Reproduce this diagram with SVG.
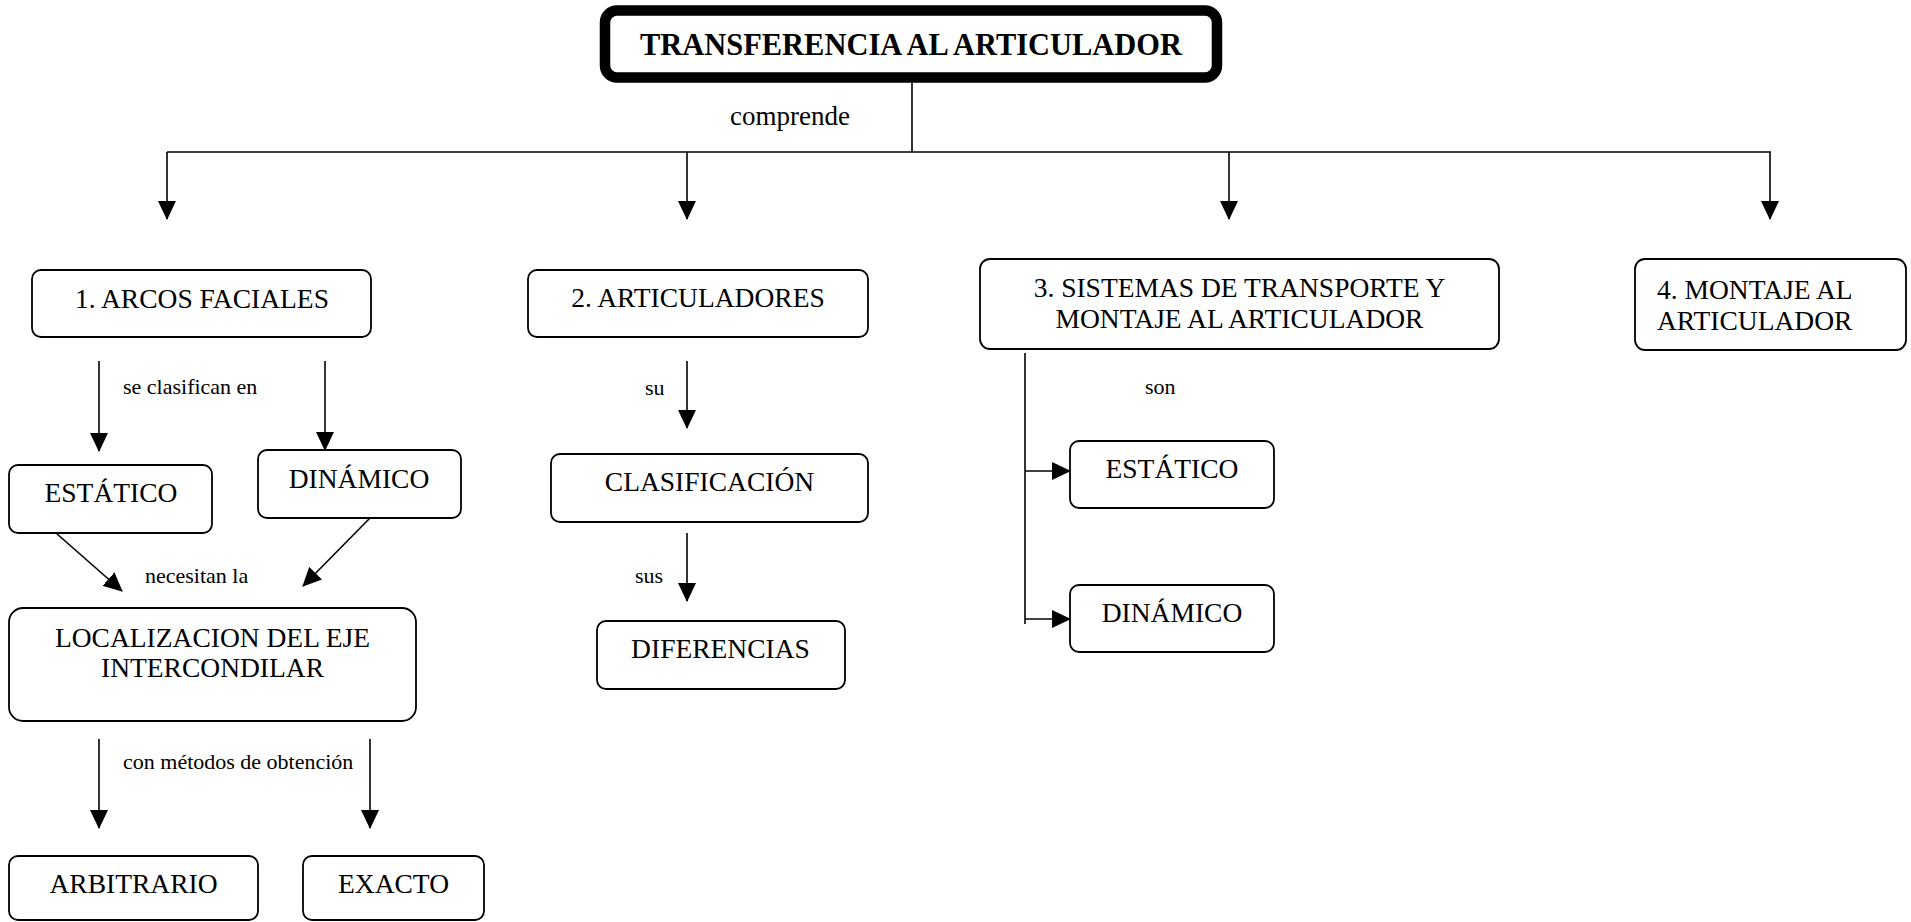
<svg xmlns="http://www.w3.org/2000/svg" width="1911" height="922" viewBox="0 0 1911 922">
<style>
  text { font-family: "Liberation Serif", "Times New Roman", serif; fill: #000; }
  .box { fill: #fff; stroke: #000; stroke-width: 1.8; }
  .t { font-size: 27.5px; text-anchor: middle; }
  .tl { font-size: 27.5px; text-anchor: start; }
  .lbl { font-size: 22px; }
  .con { fill: none; stroke: #000; stroke-width: 1.6; }
  .arr { marker-end: url(#ah); }
</style>
<defs>
  <marker id="ah" viewBox="0 0 19 18" refX="18" refY="9" markerWidth="19" markerHeight="18" markerUnits="userSpaceOnUse" orient="auto">
    <path d="M0,0 L19,9 L0,18 Z" fill="#000"/>
  </marker>
</defs>
<rect width="1911" height="922" fill="#fff"/>

<g id="connectors">
  <path class="con" d="M912,83 V152"/>
  <path class="con" d="M167,152 H1771"/>
  <path class="con arr" d="M167,152 V219"/>
  <path class="con arr" d="M687,152 V219"/>
  <path class="con arr" d="M1229,152 V219"/>
  <path class="con arr" d="M1770,152 V219"/>
  <path class="con arr" d="M99,361 V451"/>
  <path class="con arr" d="M325,361 V450"/>
  <path class="con arr" d="M56,533 L122,591"/>
  <path class="con arr" d="M370,518 L303,586"/>
  <path class="con arr" d="M99,739 V828"/>
  <path class="con arr" d="M370,739 V828"/>
  <path class="con arr" d="M687,361 V428"/>
  <path class="con arr" d="M687,533 V601"/>
  <path class="con" d="M1025,353 V624"/>
  <path class="con arr" d="M1025,471 H1070"/>
  <path class="con arr" d="M1025,619 H1070"/>
  <text x="790" y="125" style="font-size:27px" text-anchor="middle">comprende</text>
  <text class="lbl" x="123" y="394">se clasifican en</text>
  <text class="lbl" x="145" y="583">necesitan la</text>
  <text class="lbl" x="123" y="769">con métodos de obtención</text>
  <text class="lbl" x="645" y="395">su</text>
  <text class="lbl" x="635" y="583">sus</text>
  <text class="lbl" x="1145" y="394">son</text>
</g>

<g id="title">
  <rect x="605" y="10.5" width="612" height="67" rx="12" fill="#fff" stroke="#000" stroke-width="10.5"/>
  <text x="911" y="55" font-size="32" font-weight="bold" text-anchor="middle" textLength="542" lengthAdjust="spacingAndGlyphs">TRANSFERENCIA AL ARTICULADOR</text>
</g>

<g id="arcos">
  <rect class="box" x="32" y="270" width="339" height="67" rx="9"/>
  <text class="t" x="202" y="308">1. ARCOS FACIALES</text>
</g>
<g id="estatico1">
  <rect class="box" x="9" y="465" width="203" height="68" rx="9"/>
  <text class="t" x="111" y="502">ESTÁTICO</text>
</g>
<g id="dinamico1">
  <rect class="box" x="258" y="450" width="203" height="68" rx="9"/>
  <text class="t" x="359" y="488">DINÁMICO</text>
</g>
<g id="localizacion">
  <rect class="box" x="9" y="608" width="407" height="113" rx="14"/>
  <text class="t" x="212.5" y="647">LOCALIZACION DEL EJE</text>
  <text class="t" x="212.5" y="677">INTERCONDILAR</text>
</g>
<g id="arbitrario">
  <rect class="box" x="9" y="856" width="249" height="64" rx="9"/>
  <text class="t" x="133.5" y="893">ARBITRARIO</text>
</g>
<g id="exacto">
  <rect class="box" x="303" y="856" width="181" height="64" rx="9"/>
  <text class="t" x="393.5" y="893">EXACTO</text>
</g>

<g id="articuladores">
  <rect class="box" x="528" y="270" width="340" height="67" rx="9"/>
  <text class="t" x="698" y="307">2. ARTICULADORES</text>
</g>
<g id="clasificacion">
  <rect class="box" x="551" y="454" width="317" height="68" rx="9"/>
  <text class="t" x="709.5" y="491">CLASIFICACIÓN</text>
</g>
<g id="diferencias">
  <rect class="box" x="597" y="621" width="248" height="68" rx="9"/>
  <text class="t" x="720.5" y="658">DIFERENCIAS</text>
</g>

<g id="sistemas">
  <rect class="box" x="980" y="259" width="519" height="90" rx="10"/>
  <text class="t" x="1239.5" y="297">3. SISTEMAS DE TRANSPORTE Y</text>
  <text class="t" x="1239.5" y="328">MONTAJE AL ARTICULADOR</text>
</g>
<g id="estatico2">
  <rect class="box" x="1070" y="441" width="204" height="67" rx="9"/>
  <text class="t" x="1172" y="478">ESTÁTICO</text>
</g>
<g id="dinamico2">
  <rect class="box" x="1070" y="585" width="204" height="67" rx="9"/>
  <text class="t" x="1172" y="622">DINÁMICO</text>
</g>

<g id="montaje">
  <rect class="box" x="1635" y="259" width="271" height="91" rx="10"/>
  <text class="tl" x="1657" y="299">4. MONTAJE AL</text>
  <text class="tl" x="1657" y="330">ARTICULADOR</text>
</g>
</svg>
